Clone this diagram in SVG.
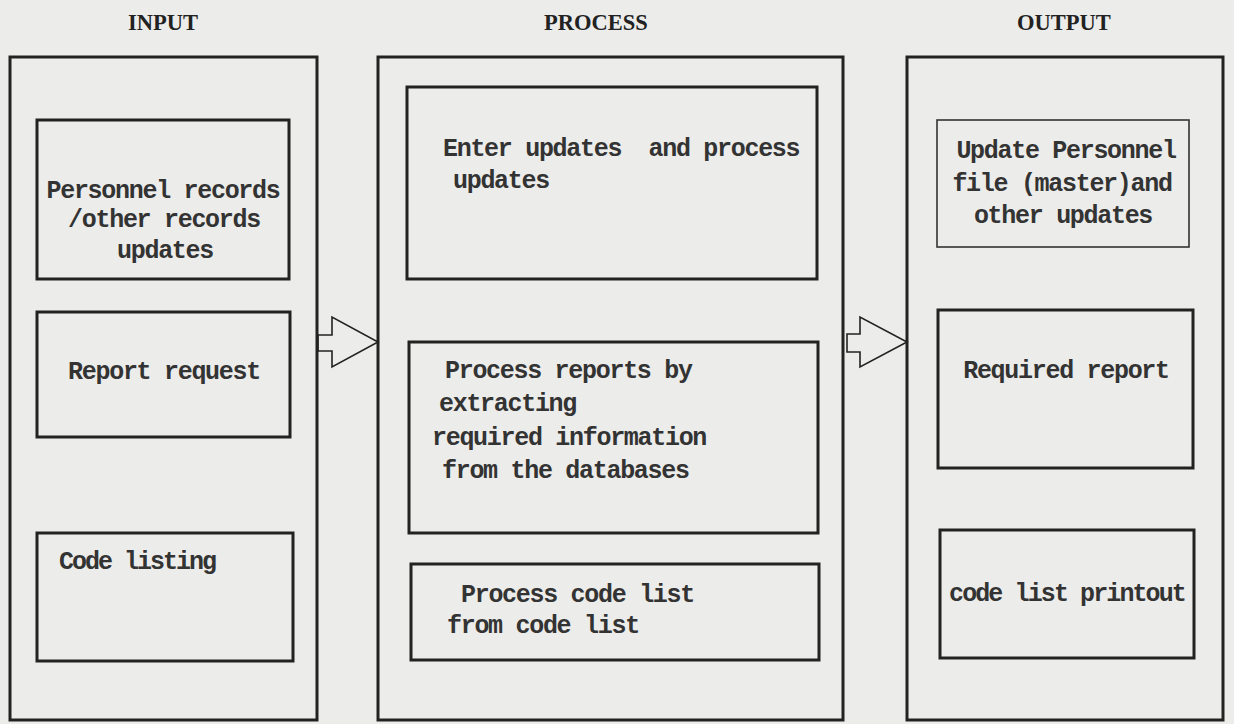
<svg xmlns="http://www.w3.org/2000/svg" width="1234" height="724" viewBox="0 0 1234 724">
<style>
.bg{fill:#ececea}
.outer{fill:none;stroke:#222;stroke-width:3}
.inner{fill:none;stroke:#222;stroke-width:3}
.thin{fill:none;stroke:#333;stroke-width:1.6}
.title{font-family:"Liberation Serif",serif;font-weight:bold;font-size:22.5px;fill:#222;text-anchor:middle}
.t{font-family:"Liberation Mono",monospace;font-weight:bold;font-size:25px;letter-spacing:-1.3px;fill:#333}
.c{text-anchor:middle}
.arrow{fill:none;stroke:#222;stroke-width:1.6;stroke-linejoin:miter}
</style>
<rect class="bg" x="0" y="0" width="1234" height="724"/>
<g id="input">
<text class="title" x="163" y="30">INPUT</text>
<rect class="outer" x="10" y="57" width="307" height="663"/>
</g>
<g id="process">
<text class="title" x="596" y="30">PROCESS</text>
<rect class="outer" x="378" y="57" width="465" height="663"/>
</g>
<g id="output">
<text class="title" x="1064" y="30">OUTPUT</text>
<rect class="outer" x="907" y="57" width="316" height="663"/>
</g>
<g id="personnel-records">
<rect class="inner" x="37" y="120" width="252" height="159"/>
<text class="t c" x="163" y="198">Personnel records</text>
<text class="t c" x="164" y="227">/other records</text>
<text class="t c" x="165" y="258">updates</text>
</g>
<g id="report-request">
<rect class="inner" x="37" y="312" width="253" height="125"/>
<text class="t c" x="164" y="379">Report request</text>
</g>
<g id="code-listing">
<rect class="inner" x="37" y="533" width="256" height="128"/>
<text class="t" x="59" y="569" style="letter-spacing:-2px">Code listing</text>
</g>
<g id="enter-updates">
<rect class="inner" x="407" y="87" width="410" height="192"/>
<text class="t" x="443" y="156" xml:space="preserve">Enter updates  and process</text>
<text class="t" x="453" y="188">updates</text>
</g>
<g id="process-reports">
<rect class="inner" x="409" y="342" width="409" height="191"/>
<text class="t" x="445" y="378">Process reports by</text>
<text class="t" x="439" y="411">extracting</text>
<text class="t" x="432" y="445">required information</text>
<text class="t" x="442" y="478">from the databases</text>
</g>
<g id="process-code-list">
<rect class="inner" x="411" y="564" width="408" height="96"/>
<text class="t" x="461" y="602">Process code list</text>
<text class="t" x="447" y="633">from code list</text>
</g>
<g id="update-personnel-file">
<rect class="thin" x="937" y="120" width="252" height="127"/>
<text class="t c" x="1066" y="158">Update Personnel</text>
<text class="t c" x="1062" y="191">file (master)and</text>
<text class="t c" x="1063" y="223">other updates</text>
</g>
<g id="required-report">
<rect class="inner" x="938" y="310" width="255" height="158"/>
<text class="t c" x="1066" y="378">Required report</text>
</g>
<g id="code-list-printout">
<rect class="inner" x="940" y="530" width="254" height="128"/>
<text class="t c" x="1067" y="601" style="letter-spacing:-1.9px">code list printout</text>
</g>
<g id="connectors">
<polygon class="arrow" points="318,335 332,335 332,317 378,342 332,367 332,351 318,351"/>
<polygon class="arrow" points="847,334 860,334 860,317 907,342 860,367 860,352 847,352"/>
</g>
</svg>
